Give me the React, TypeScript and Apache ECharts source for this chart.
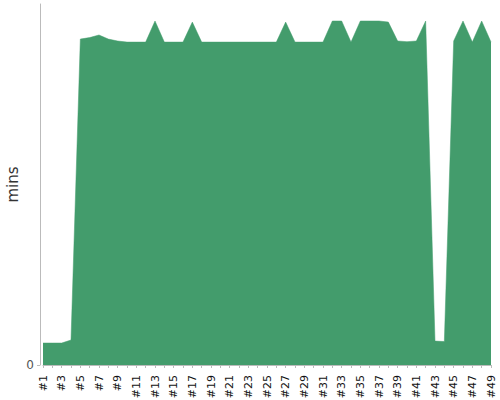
import React, { useEffect, useRef } from "react";
import * as echarts from "echarts";

const categories: string[] = Array.from({ length: 49 }, (_, i) => "#" + (i + 1));
const minutes: number[] = [
  1.02, 1.02, 1.02, 1.16, 15.14, 15.21, 15.33, 15.14, 15.05, 15.0,
  15.0, 15.0, 15.98, 15.0, 15.0, 15.0, 15.93, 15.0, 15.0, 15.0,
  15.0, 15.0, 15.0, 15.0, 15.0, 15.0, 15.93, 15.0, 15.0, 15.0,
  15.0, 15.98, 15.98, 15.0, 15.98, 15.98, 15.98, 15.93, 15.05, 15.02,
  15.05, 15.98, 1.11, 1.09, 15.05, 15.98, 15.0, 15.98, 15.0,
];
const yMax = 16.77;
const seriesName = "mins";
const areaColor = "#439c6c";

export default function App() {
  const ref = useRef<HTMLDivElement>(null);
  useEffect(() => {
    if (!ref.current) return;
    const chart = echarts.init(ref.current, null, { renderer: "svg" });
    chart.setOption({
      animation: false,
      grid: { left: 43, right: 9, top: 4, bottom: 35, containLabel: false, outerBoundsMode: "none" },
      xAxis: {
        type: "category",
        data: categories,
        boundaryGap: false,
        offset: 4,
        axisLine: { lineStyle: { color: "#bbb", width: 1 } },
        axisTick: { show: true, interval: 0, length: 3, lineStyle: { color: "#bbb" } },
        axisLabel: {
          rotate: 90,
          interval: 1,
          fontSize: 11,
          color: "#111",
          fontFamily: "DejaVu Sans",
          margin: 6,
        },
        splitLine: { show: false },
      },
      yAxis: {
        type: "value",
        min: 0,
        max: yMax,
        interval: yMax,
        offset: 3,
        name: seriesName,
        nameLocation: "middle",
        nameGap: 20,
        nameMoveOverlap: false,
        nameTextStyle: { fontSize: 15, color: "#333", fontFamily: "DejaVu Sans" },
        axisLine: { show: true, lineStyle: { color: "#bbb", width: 1 } },
        axisTick: { show: true, length: 3, lineStyle: { color: "#bbb" } },
        axisLabel: {
          showMaxLabel: false,
          fontSize: 12,
          color: "#555",
          fontFamily: "DejaVu Sans",
          margin: 6,
          formatter: (v: number) => (v === 0 ? "0" : ""),
        },
        splitLine: { show: false },
      },
      series: [
        {
          name: seriesName,
          type: "line",
          data: minutes,
          symbol: "none",
          lineStyle: { width: 0.5, color: areaColor },
          areaStyle: { color: areaColor, opacity: 1 },
        },
      ],
    });
    return () => chart.dispose();
  }, []);
  return <div ref={ref} style={{ width: 500, height: 400, position: "absolute", left: 0, top: 0 }} />;
}
